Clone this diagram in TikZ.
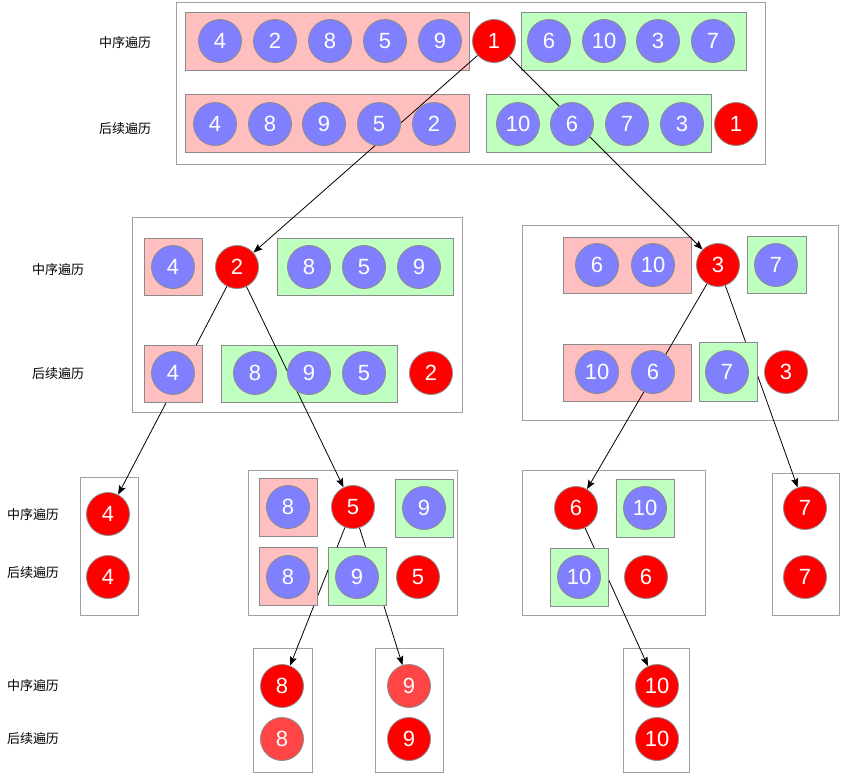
\documentclass[tikz,border=0pt]{standalone}
\usepackage{fontspec}
\setmainfont{Liberation Sans}
\newfontfamily\cjk{Noto Sans CJK SC}
\usetikzlibrary{arrows.meta}
\pgfdeclarelayer{bg}
\pgfdeclarelayer{edgelayer}
\pgfsetlayers{bg,edgelayer,main}
\definecolor{nred}{HTML}{FF0000}
\definecolor{lred}{HTML}{FF4545}
\definecolor{nblue}{HTML}{8080FF}
\definecolor{npink}{HTML}{FFBFBF}
\definecolor{ngreen}{HTML}{BFFFBF}
\definecolor{nborder}{HTML}{8A8A8A}
\definecolor{obox}{HTML}{A0A0A0}
\tikzset{
 nd/.style={circle, minimum size=43pt, inner sep=0pt, draw=nborder, line width=0.8pt, text=white, font=\fontsize{22}{22}\selectfont},
 bnode/.style={nd, fill=nblue},
 rnode/.style={nd, fill=nred},
 lnode/.style={nd, fill=lred},
 pinkbox/.style={rectangle, draw=nborder, fill=npink, line width=0.8pt, inner sep=0pt},
 greenbox/.style={rectangle, draw=nborder, fill=ngreen, line width=0.8pt, inner sep=0pt},
 outerbox/.style={rectangle, draw=obox, line width=1pt, inner sep=0pt},
 lbl/.style={font=\cjk\fontsize{13}{13}\selectfont, text=black},
 conn/.style={draw=black, line width=0.8pt, -{Stealth[length=9pt,width=7pt,inset=1.5pt]}},
}
\begin{document}
\begin{tikzpicture}[x=1pt,y=-1pt]
\useasboundingbox (0,0) rectangle (841,774);

% ---------- labels ----------
\node[lbl] (la1) at (125,43) {中序遍历};
\node[lbl] (la2) at (125,129) {后续遍历};
\node[lbl] (lb1) at (58,270) {中序遍历};
\node[lbl] (lb2) at (58,374) {后续遍历};
\node[lbl] (lc1) at (33,515) {中序遍历};
\node[lbl] (lc2) at (33,573) {后续遍历};
\node[lbl] (ld1) at (33,686) {中序遍历};
\node[lbl] (ld2) at (33,739) {后续遍历};

% ---------- single-element squares (hide connectors) ----------
\node[pinkbox, minimum width=58pt, minimum height=57pt] (sqL1) at (173,266.5) {};
\node[pinkbox, minimum width=58pt, minimum height=57pt] (sqL2) at (173,373.5) {};
\node[greenbox, minimum width=59pt, minimum height=57pt] (sqR1) at (776.5,264.5) {};
\node[greenbox, minimum width=58pt, minimum height=59pt] (sqR2) at (728,371.5) {};
\node[pinkbox, minimum width=58pt, minimum height=58pt] (sq5a) at (288,507) {};
\node[greenbox, minimum width=58pt, minimum height=58pt] (sq5b) at (424,508) {};
\node[pinkbox, minimum width=58pt, minimum height=58pt] (sq5c) at (288,576) {};
\node[greenbox, minimum width=58pt, minimum height=58pt] (sq5d) at (357,576) {};
\node[greenbox, minimum width=58pt, minimum height=58pt] (sq6a) at (645,508) {};
\node[greenbox, minimum width=58pt, minimum height=58pt] (sq6b) at (579,577) {};

% ---------- top level ----------
\node[bnode] (ta4) at (220,41) {4};
\node[bnode] (ta2) at (275,41) {2};
\node[bnode] (ta8) at (330,41) {8};
\node[bnode] (ta5) at (385,41) {5};
\node[bnode] (ta9) at (440,41) {9};
\node[rnode] (ta1) at (494,41) {1};
\node[bnode] (ta6) at (549,41) {6};
\node[bnode] (ta10) at (604,41) {10};
\node[bnode] (ta3) at (658,41) {3};
\node[bnode] (ta7) at (713,41) {7};

\node[bnode] (tb4) at (215,124) {4};
\node[bnode] (tb8) at (270,124) {8};
\node[bnode] (tb9) at (324,124) {9};
\node[bnode] (tb5) at (379,124) {5};
\node[bnode] (tb2) at (434,124) {2};
\node[bnode] (tb10) at (518,124) {10};
\node[bnode] (tb6) at (572,124) {6};
\node[bnode] (tb7) at (627,124) {7};
\node[bnode] (tb3) at (682,124) {3};
\node[rnode] (tb1) at (736,124) {1};

% ---------- level 2 left ----------
\node[bnode] (la4) at (173,267) {4};
\node[rnode] (L2) at (237,267) {2};
\node[bnode] (la8) at (309,267) {8};
\node[bnode] (la5) at (364,267) {5};
\node[bnode] (la9) at (419,267) {9};
\node[bnode] (lb4) at (173,373) {4};
\node[bnode] (lb8) at (255,373) {8};
\node[bnode] (lb9) at (309,373) {9};
\node[bnode] (lb5) at (364,373) {5};
\node[rnode] (lbr2) at (431,373) {2};

% ---------- level 2 right ----------
\node[bnode] (ra6) at (597,265) {6};
\node[bnode] (ra10) at (653,265) {10};
\node[rnode] (R3) at (718,265) {3};
\node[bnode] (ra7) at (776,265) {7};
\node[bnode] (rb10) at (597,372) {10};
\node[bnode] (rb6) at (653,372) {6};
\node[bnode] (rb7) at (727,372) {7};
\node[rnode] (rbr3) at (786,372) {3};

% ---------- level 3 ----------
\node[rnode] (C4) at (108,514) {4};
\node[rnode] (c4b) at (108,577) {4};

\node[bnode] (c8a) at (288,507) {8};
\node[rnode] (C5) at (353,507) {5};
\node[bnode] (c9a) at (424,508) {9};
\node[bnode] (c8b) at (288,577) {8};
\node[bnode] (c9b) at (357,577) {9};
\node[rnode] (c5b) at (418,577) {5};

\node[rnode] (C6) at (576,508) {6};
\node[bnode] (c10a) at (645,508) {10};
\node[bnode] (c10b) at (579,577) {10};
\node[rnode] (c6b) at (646,577) {6};

\node[rnode] (C7) at (805,508) {7};
\node[rnode] (c7b) at (805,577) {7};

% ---------- level 4 ----------
\node[rnode] (D8) at (282,686) {8};
\node[lnode] (d8b) at (282,739) {8};
\node[lnode] (D9) at (409,686) {9};
\node[rnode] (d9b) at (409,739) {9};
\node[rnode] (D10) at (657,686) {10};
\node[rnode] (d10b) at (657,739) {10};

% ---------- connectors ----------
\begin{pgfonlayer}{edgelayer}
\draw[conn] (ta1) -- (L2);
\draw[conn] (ta1) -- (R3);
\draw[conn] (L2) -- (C4);
\draw[conn] (L2) -- (C5);
\draw[conn] (R3) -- (C6);
\draw[conn] (R3) -- (C7);
\draw[conn] (C5) -- (D8);
\draw[conn] (C5) -- (D9);
\draw[conn] (C6) -- (D10);
\end{pgfonlayer}

% ---------- background boxes ----------
\begin{pgfonlayer}{bg}
\node[outerbox, minimum width=589pt, minimum height=162pt] (obT) at (470.5,83) {};
\node[outerbox, minimum width=330pt, minimum height=195pt] (obL) at (297,314.5) {};
\node[outerbox, minimum width=316pt, minimum height=195pt] (obR) at (680,322.5) {};
\node[outerbox, minimum width=58pt, minimum height=138pt] (ob4) at (109,546) {};
\node[outerbox, minimum width=209pt, minimum height=145pt] (ob5) at (352.5,542.5) {};
\node[outerbox, minimum width=183pt, minimum height=145pt] (ob6) at (613.5,542.5) {};
\node[outerbox, minimum width=67pt, minimum height=142pt] (ob7) at (805.5,544) {};
\node[outerbox, minimum width=59pt, minimum height=124pt] (ob8) at (282.5,710) {};
\node[outerbox, minimum width=68pt, minimum height=124pt] (ob9) at (409,710) {};
\node[outerbox, minimum width=66pt, minimum height=124pt] (ob10) at (656,710) {};

\node[pinkbox, minimum width=284pt, minimum height=58pt] (pT1) at (327,41) {};
\node[greenbox, minimum width=225pt, minimum height=58pt] (gT1) at (633.5,41) {};
\node[pinkbox, minimum width=284pt, minimum height=58pt] (pT2) at (327,123) {};
\node[greenbox, minimum width=225pt, minimum height=58pt] (gT2) at (598.5,123) {};
\node[greenbox, minimum width=176pt, minimum height=57pt] (gL1) at (365,266.5) {};
\node[greenbox, minimum width=176pt, minimum height=57pt] (gL2) at (309,373.5) {};
\node[pinkbox, minimum width=128pt, minimum height=56pt] (pR1) at (627,265) {};
\node[pinkbox, minimum width=128pt, minimum height=57pt] (pR2) at (627,372.5) {};
\end{pgfonlayer}
\end{tikzpicture}
\end{document}
